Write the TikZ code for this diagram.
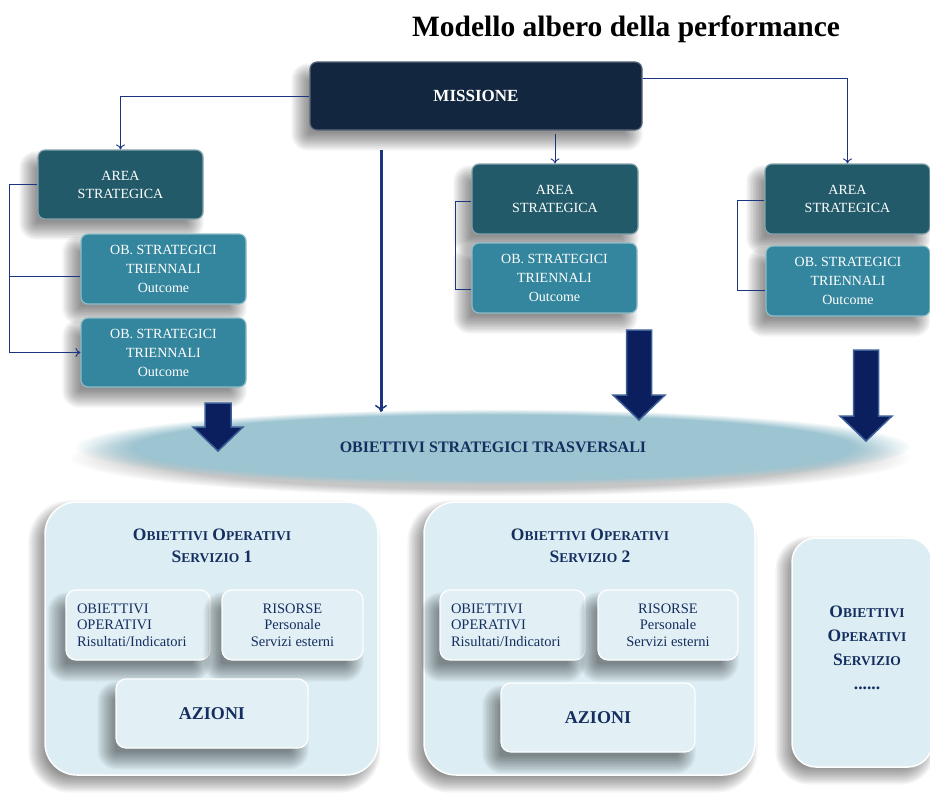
\documentclass[tikz,border=0pt]{standalone}
\usepackage{fontspec}
\setmainfont{Liberation Serif}
\usetikzlibrary{fadings,shapes.geometric,arrows.meta}
\definecolor{mis}{HTML}{13263F}
\definecolor{area}{HTML}{225A69}
\definecolor{ob}{HTML}{33869D}
\definecolor{navy}{HTML}{152E60}
\definecolor{conn}{HTML}{1C3580}
\definecolor{lightbox}{HTML}{DCEDF3}
\definecolor{innerbox}{HTML}{E2F0F5}
\definecolor{ellc}{HTML}{9CC4D1}
\definecolor{arrfill}{HTML}{0B1F5E}
\definecolor{arredge}{HTML}{3C5E96}
\newcommand\fsc[2]{#1{\fontsize{13.5}{10}\selectfont#2}}
\newcommand\blockarrow[6]{%
  \fill[arrfill, draw=arredge, line width=1.5pt, line join=miter]
    (#1-#5,-#2) -- (#1+#5,-#2) -- (#1+#5,-#3) -- (#1+#6,-#3) -- (#1,-#4)
    -- (#1-#6,-#3) -- (#1-#5,-#3) -- cycle;}
% soft shadow: cx, cy, w, h, radius, dx, dy
\newcommand\softshadow[7]{%
  \foreach \i in {0,...,11} {
    \pgfmathsetmacro\e{(\i-5)*1.6}
    \pgfmathsetmacro\rr{max(#5+\e,1)}
    \fill[black, opacity=0.045, rounded corners=\rr pt]
      (#1+#6-#3/2-\e, #2+#7-#4/2-\e) rectangle (#1+#6+#3/2+\e, #2+#7+#4/2+\e);
  }}
\tikzset{
  topbox/.style={rounded corners=7pt, align=center, text=white, inner sep=0pt,
    line width=1.2pt},
  mission/.style={topbox, fill=mis, draw=mis!70!white, minimum width=332pt, minimum height=68pt,
    font=\fontsize{17}{19}\selectfont\bfseries},
  areabox/.style={topbox, fill=area, draw=area!55!white, minimum width=165pt, minimum height=69pt,
    font=\fontsize{14}{18}\selectfont},
  obbox/.style={topbox, fill=ob, draw=ob!55!white, minimum width=165pt, minimum height=70pt,
    font=\fontsize{14}{19}\selectfont},
  conn/.style={draw=conn, line width=0.9pt},
  carr/.style={conn, -{To[length=5pt,width=9pt]}},
  bigbox/.style={rounded corners=32pt, fill=lightbox, draw=white, line width=1.5pt},
  innerbx/.style={rounded corners=10pt, fill=innerbox, draw=white, line width=1.2pt,
    text=navy, inner sep=0pt, minimum height=70pt,
    font=\fontsize{14.5}{16.5}\selectfont},
  sctitle/.style={text=navy, align=center, font=\fontsize{17.5}{22}\selectfont\bfseries},
}
\begin{document}
\begin{tikzpicture}[x=1pt,y=1pt]
\useasboundingbox (0,0) rectangle (930,-808);
\fill[white] (0,0) rectangle (930,-808);

\node[font=\fontsize{29.5}{34}\selectfont\bfseries] (title) at (626,-29) {Modello albero della performance};

% lower big boxes
\softshadow{211.5}{-638.5}{333}{273}{32}{-7}{-8}
\node[bigbox, minimum width=333pt, minimum height=273pt] (b1) at (211.5,-638.5) {};
\softshadow{589.5}{-638.5}{331}{273}{32}{-7}{-8}
\node[bigbox, minimum width=331pt, minimum height=273pt] (b2) at (589.5,-638.5) {};
\softshadow{862}{-652.5}{140}{229}{24}{-7}{-8}
\node[bigbox, rounded corners=24pt, minimum width=140pt, minimum height=229pt] (b3) at (862,-652.5) {};

\node[sctitle] (t1) at (212,-546) {\fsc{O}{BIETTIVI} \fsc{O}{PERATIVI}\\\fsc{S}{ERVIZIO} 1};
\node[sctitle] (t2) at (590,-546) {\fsc{O}{BIETTIVI} \fsc{O}{PERATIVI}\\\fsc{S}{ERVIZIO} 2};
\node[sctitle, font=\fontsize{17.5}{24}\selectfont\bfseries] (t3) at (867,-648)
  {\fsc{O}{BIETTIVI}\\\fsc{O}{PERATIVI}\\\fsc{S}{ERVIZIO}\\......};

\softshadow{138}{-625}{144}{70}{10}{-9}{-12}
\node[innerbx, minimum width=144pt, text width=122pt, align=left] (i1a) at (138,-625)
  {OBIETTIVI\\OPERATIVI\\Risultati/Indicatori};
\softshadow{292.5}{-625}{141}{70}{10}{-9}{-12}
\node[innerbx, minimum width=141pt, align=center] (i1b) at (292.5,-625)
  {RISORSE\\Personale\\Servizi esterni};
\softshadow{212}{-713.5}{192}{69}{10}{-9}{-12}
\node[innerbx, minimum width=192pt, minimum height=69pt, font=\fontsize{18}{20}\selectfont\bfseries] (az1) at (212,-713.5) {AZIONI};

\softshadow{512.5}{-625}{145}{70}{10}{-9}{-12}
\node[innerbx, minimum width=145pt, text width=123pt, align=left] (i2a) at (512.5,-625)
  {OBIETTIVI\\OPERATIVI\\Risultati/Indicatori};
\softshadow{668}{-625}{140}{70}{10}{-9}{-12}
\node[innerbx, minimum width=140pt, align=center] (i2b) at (668,-625)
  {RISORSE\\Personale\\Servizi esterni};
\softshadow{598}{-717.5}{194}{69}{10}{-9}{-12}
\node[innerbx, minimum width=194pt, minimum height=69pt, font=\fontsize{18}{20}\selectfont\bfseries] (az2) at (598,-717.5) {AZIONI};

% ellipse
\fill[gray!45, path fading=circle with fuzzy edge 20 percent] (490,-458) ellipse [x radius=420pt, y radius=38pt];
\node[ellipse, minimum width=836pt, minimum height=76pt, fill=ellc, path fading=circle with fuzzy edge 15 percent] (ell) at (493,-447) {};
\node[text=navy, font=\fontsize{16}{18}\selectfont\bfseries] (ellt) at (493,-447) {OBIETTIVI STRATEGICI TRASVERSALI};

% top boxes
\softshadow{476}{-96}{332}{68}{7}{-9}{-11}
\node[mission] (mis) at (476,-96) {MISSIONE};
\softshadow{120.5}{-184.5}{165}{69}{7}{-9}{-11}
\node[areabox] (a1) at (120.5,-184.5) {AREA\\STRATEGICA};
\softshadow{163.5}{-269}{165}{70}{7}{-9}{-11}
\node[obbox] (o1a) at (163.5,-269) {OB. STRATEGICI\\TRIENNALI\\Outcome};
\softshadow{163.5}{-352.5}{165}{69}{7}{-9}{-11}
\node[obbox, minimum height=69pt] (o1b) at (163.5,-352.5) {OB. STRATEGICI\\TRIENNALI\\Outcome};
\softshadow{555}{-199}{166}{70}{7}{-9}{-11}
\node[areabox, minimum width=166pt, minimum height=70pt] (a2) at (555,-199) {AREA\\STRATEGICA};
\softshadow{554.5}{-278}{165}{70}{7}{-9}{-11}
\node[obbox] (o2) at (554.5,-278) {OB. STRATEGICI\\TRIENNALI\\Outcome};
\softshadow{847.5}{-199}{165}{70}{7}{-9}{-11}
\node[areabox, minimum height=70pt] (a3) at (847.5,-199) {AREA\\STRATEGICA};
\softshadow{848}{-281}{164}{70}{7}{-9}{-11}
\node[obbox, minimum width=164pt] (o3) at (848,-281) {OB. STRATEGICI\\TRIENNALI\\Outcome};

% connectors
\draw[carr] (mis.west) -| (a1.north);
\draw[carr] ([yshift=18pt]mis.east) -| (a3.north);
\draw[carr] ([yshift=-3pt]mis.south -| a2.north) -- (a2.north);
\draw[carr] (a1.west) -- ++(-28,0) |- (o1b.west);
\draw[conn] ([yshift=-7pt]o1a.west) -- ++(-71,0);
\draw[conn] ([yshift=-2pt]a2.west) -- ++(-16,0) |- ([yshift=-11pt]o2.west);
\draw[conn] ([yshift=-1pt]a3.west) -- ++(-27,0) |- ([yshift=-9pt]o3.west);

\coordinate (ts) at (381,-150);
\coordinate (te) at (381,-412);
\draw[draw=conn, line width=3pt, -{To[length=7pt,width=12pt,line width=1.5pt]}] (ts) -- (te);

% block arrows
\blockarrow{218}{403}{427}{451}{13}{25}
\blockarrow{639}{330}{395}{420}{12.5}{26}
\blockarrow{866}{350}{416}{441}{12.5}{26}
\end{tikzpicture}
\end{document}
